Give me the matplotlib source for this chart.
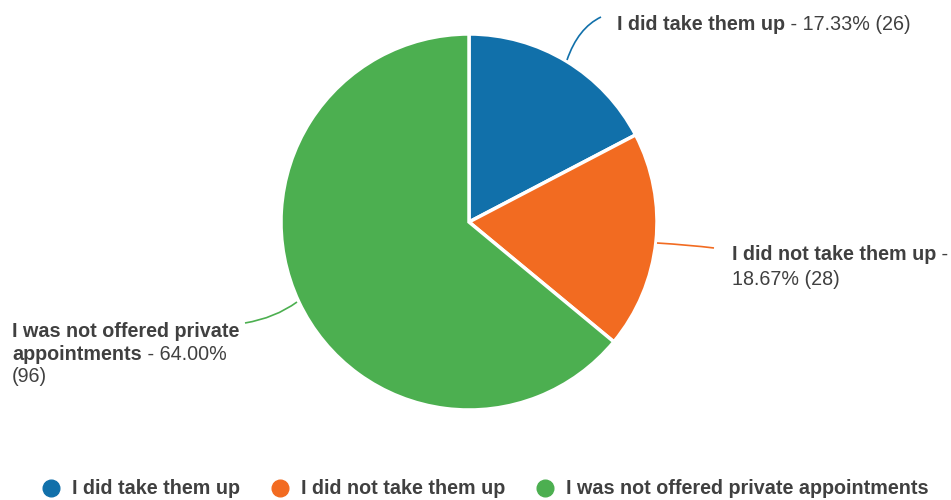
import numpy as np
import matplotlib.pyplot as plt
from matplotlib.lines import Line2D
from matplotlib.path import Path
from matplotlib.patches import PathPatch

categories = ['I did take them up', 'I did not take them up',
              'I was not offered private appointments']
counts = [26, 28, 96]
percents = [17.33, 18.67, 64.00]
colors = ['#1170aa', '#f26b21', '#4caf50']

plt.rcParams['font.family'] = ['Liberation Sans', 'DejaVu Sans']
TXT = '#404040'
FS = 14.2

fig = plt.figure(figsize=(9.51, 5.0), dpi=100)
ax = fig.add_axes([0, 0, 1, 1])

# pixel-like coords with y pointing down, so counterclock here is clockwise on screen
ax.pie(counts, colors=colors, center=(469, 222), radius=188,
       startangle=-90, counterclock=True,
       wedgeprops=dict(edgecolor='white', linewidth=2.5))
ax.set_xlim(0, 951)
ax.set_ylim(500, 0)
ax.set_aspect('equal')
ax.axis('off')


def leader(p0, p1, p2, color):
    path = Path([p0, p1, p2], [Path.MOVETO, Path.CURVE3, Path.CURVE3])
    ax.add_patch(PathPatch(path, fill=False, edgecolor=color, lw=1.2))


def label(x, y, parts):
    # parts: list of (text, bold) drawn one after another on a line
    t = ax.text(x, y, parts[0][0], fontsize=FS, color=TXT, va='baseline',
                fontweight='bold' if parts[0][1] else 'normal')
    for s, b in parts[1:]:
        t = ax.annotate(s, xy=(1, 0), xycoords=t, fontsize=FS, color=TXT,
                        va='bottom', fontweight='bold' if b else 'normal')


leader((567, 60), (578, 28), (601, 17), colors[0])
leader((657, 243), (690, 245), (714, 248), colors[1])
leader((245, 323), (275, 318), (297, 302), colors[2])

label(617, 30, [(categories[0], True), (f' - {percents[0]:.2f}% ({counts[0]})', False)])
label(732, 260, [(categories[1], True), (' -', False)])
label(732, 285, [(f'{percents[1]:.2f}% ({counts[1]})', False)])
label(12, 337, [('I was not offered private', True)])
label(12, 360, [('appointments', True), (f' - {percents[2]:.2f}%', False)])
label(12, 382, [(f'({counts[2]})', False)])

handles = [Line2D([], [], marker='o', ls='', markersize=12, color=c) for c in colors]
ax.legend(handles, categories, loc='center', bbox_to_anchor=(0.511, 0.022),
          ncol=3, frameon=False, handlelength=0.8, handletextpad=0.66,
          columnspacing=1.62, prop=dict(size=FS, weight='bold'),
          labelcolor=TXT, borderpad=0, borderaxespad=0)

fig.savefig('out.png', dpi=100)
